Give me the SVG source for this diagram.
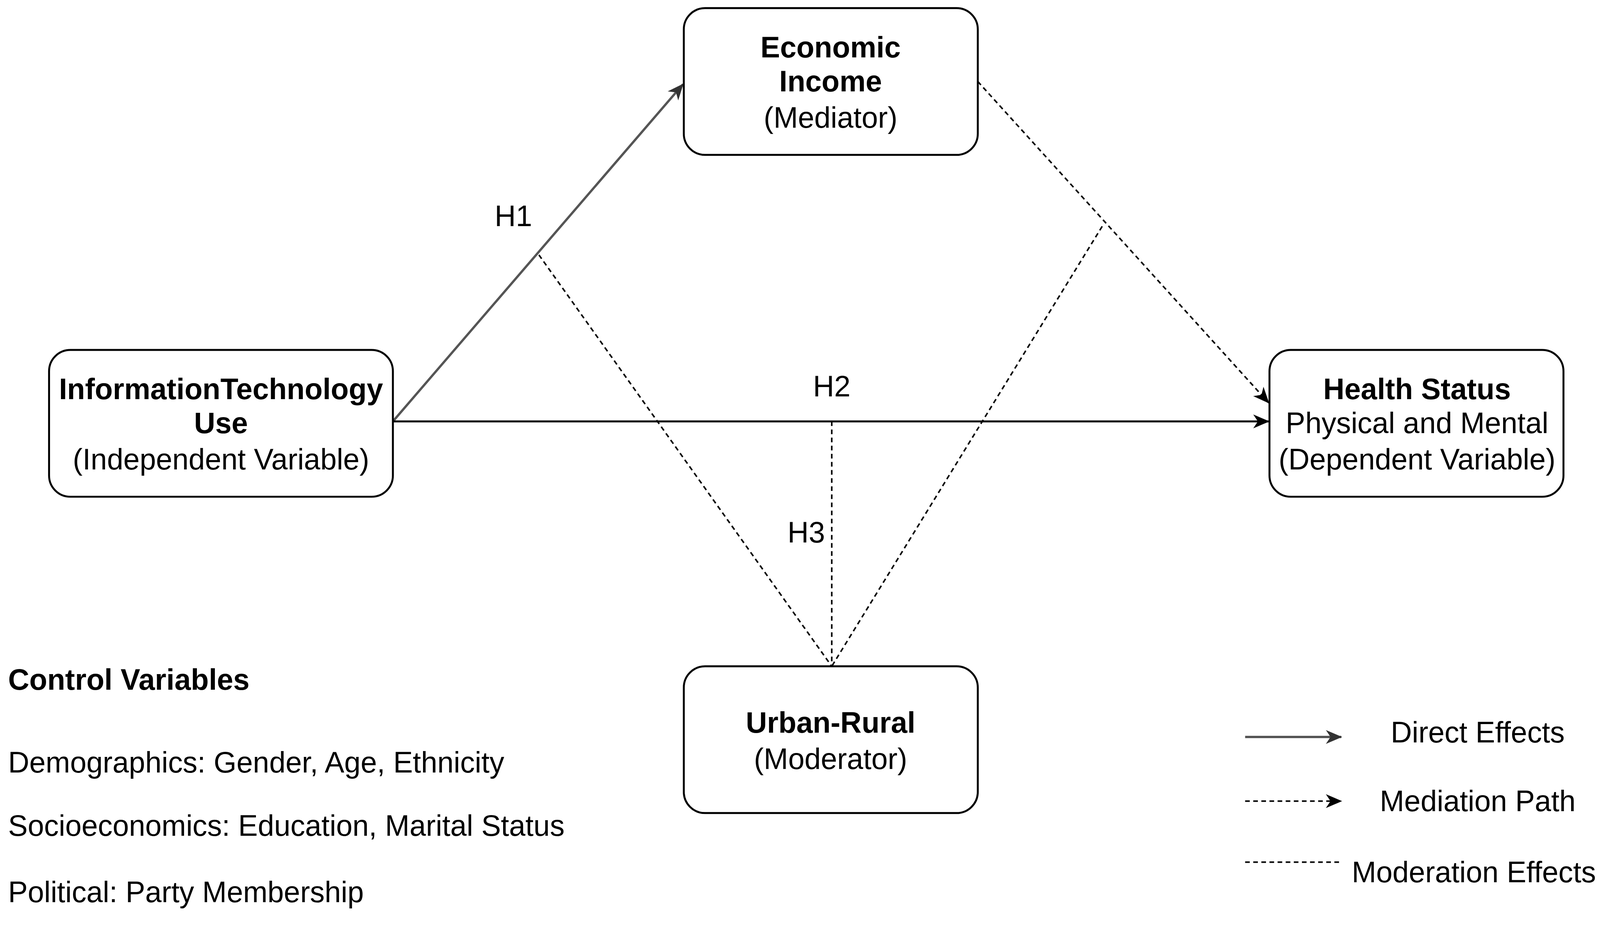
<svg xmlns="http://www.w3.org/2000/svg" width="4142" height="2371" viewBox="0 0 4142 2371">
<style>
.box{fill:#fff;stroke:#000;stroke-width:5}
.t{font-family:"Liberation Sans",Arial,sans-serif;font-size:76px;fill:#000;text-anchor:middle}
.b{font-weight:bold}
.l{text-anchor:start}
.solid{stroke:#000;stroke-width:5;fill:none}
.grey{stroke:#555;stroke-width:6;fill:none}
.dash{stroke:#000;stroke-width:4;fill:none;stroke-dasharray:12 9}
</style>
<defs>
<marker id="ahg" markerWidth="45" markerHeight="45" refX="40" refY="22" orient="auto" markerUnits="userSpaceOnUse">
<path d="M0,4 L42,22 L0,40 L12,22 Z" fill="#333"/>
</marker>
<marker id="ahk" markerWidth="45" markerHeight="45" refX="40" refY="22" orient="auto" markerUnits="userSpaceOnUse">
<path d="M0,4 L42,22 L0,40 L12,22 Z" fill="#000"/>
</marker>
</defs>
<rect width="4142" height="2371" fill="#fff"/>
<g transform="scale(0.989)">
<g id="connectors">
<line class="grey" x1="1017" y1="1091" x2="1768" y2="218" marker-end="url(#ahg)"/>
<line class="solid" x1="1017" y1="1091" x2="3284" y2="1091" marker-end="url(#ahk)"/>
<line class="dash" x1="2531" y1="211" x2="3284" y2="1043" marker-end="url(#ahk)"/>
<line class="dash" x1="1395" y1="660" x2="2153" y2="1725"/>
<line class="dash" x1="2853" y1="586" x2="2153" y2="1725"/>
<line class="dash" x1="2153" y1="1091" x2="2153" y2="1725"/>
<text class="t" x="1329" y="585">H1</text>
<text class="t" x="2153" y="1026">H2</text>
<text class="t" x="2087" y="1404">H3</text>
</g>
<g id="econ">
<rect class="box" x="1770" y="21" width="761" height="380" rx="55"/>
<text class="t b" x="2150" y="149">Economic</text>
<text class="t b" x="2150" y="237">Income</text>
<text class="t" x="2150" y="331">(Mediator)</text>
</g>
<g id="itu">
<rect class="box" x="127" y="906" width="890" height="380" rx="55"/>
<text class="t b" x="572" y="1033">InformationTechnology</text>
<text class="t b" x="572" y="1121">Use</text>
<text class="t" x="572" y="1215">(Independent Variable)</text>
</g>
<g id="health">
<rect class="box" x="3286" y="906" width="761" height="380" rx="55"/>
<text class="t b" x="3668" y="1033">Health  Status</text>
<text class="t" x="3668" y="1121">Physical and Mental</text>
<text class="t" x="3668" y="1215">(Dependent Variable)</text>
</g>
<g id="urban">
<rect class="box" x="1770" y="1725" width="761" height="380" rx="55"/>
<text class="t b" x="2150" y="1897">Urban-Rural</text>
<text class="t" x="2150" y="1991">(Moderator)</text>
</g>
<g id="controls">
<text class="t b l" x="21" y="1786" font-size="90">Control Variables</text>
<text class="t l" x="21" y="2000">Demographics: Gender, Age, Ethnicity</text>
<text class="t l" x="21" y="2164">Socioeconomics: Education, Marital Status</text>
<text class="t l" x="21" y="2336">Political: Party Membership</text>
</g>
<g id="legend">
<line class="grey" x1="3223" y1="1908" x2="3472" y2="1908" marker-end="url(#ahg)"/>
<text class="t" x="3825" y="1922">Direct Effects</text>
<line class="dash" x1="3223" y1="2074" x2="3472" y2="2074" marker-end="url(#ahk)"/>
<text class="t" x="3825" y="2100">Mediation Path</text>
<line class="dash" x1="3223" y1="2232" x2="3472" y2="2232"/>
<text class="t" x="3815" y="2284">Moderation Effects</text>
</g>
</g>
</svg>
